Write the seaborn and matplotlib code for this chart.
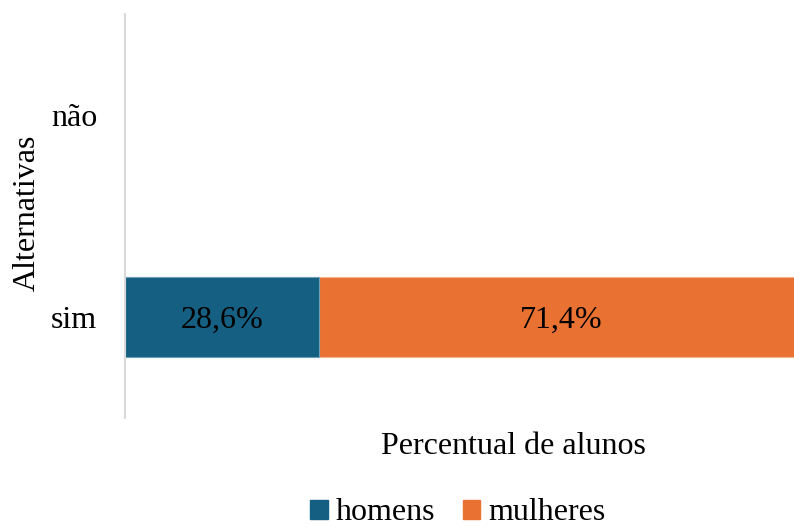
import matplotlib
matplotlib.use("Agg")
import matplotlib.pyplot as plt
import matplotlib.patches as mpatches
import seaborn as sns
import pandas as pd

# Survey answers split by gender (percent of students)
categorias = ["não", "sim"]
homens = [0.0, 28.6]
mulheres = [0.0, 71.4]
rotulos_series = ["homens", "mulheres"]

cor_homens = "#156082"
cor_mulheres = "#E97132"

sns.set_theme(style="white")
plt.rcParams["font.family"] = ["Liberation Serif", "DejaVu Serif"]
plt.rcParams["text.color"] = "black"

df = pd.DataFrame({
    "alternativa": categorias,
    "homens": homens,
    "mulheres": mulheres,
})
df["total"] = df["homens"] + df["mulheres"]

W, H = 794, 531
fig = plt.figure(figsize=(W / 100, H / 100), dpi=100)
# plot area runs slightly past the right edge of the canvas
ax = fig.add_axes([125 / W, 1 - 418 / H, (803 - 125) / W, (418 - 14) / H])

# stacked bars: full total first, then the first segment over it
sns.barplot(data=df, y="alternativa", x="total", order=categorias, orient="h",
            color=cor_mulheres, saturation=1, width=0.4, ax=ax,
            edgecolor="#f4b48f", linewidth=0.8)
sns.barplot(data=df, y="alternativa", x="homens", order=categorias, orient="h",
            color=cor_homens, saturation=1, width=0.4, ax=ax,
            edgecolor="#6f9fb8", linewidth=0.8)

# empty categories get no visible bar outline
for p in ax.patches:
    if p.get_width() == 0:
        p.set_visible(False)

ax.set_xlim(0, 100)
ax.set_ylim(1.5, -0.5)

fs = 23
for i, cat in enumerate(categorias):
    h = homens[i]
    m = mulheres[i]
    if h > 0:
        ax.text(h / 2, i, f"{h:.1f}%".replace(".", ","), ha="center",
                va="center_baseline", fontsize=fs, color="black")
    if m > 0:
        ax.text(h + m / 2, i, f"{m:.1f}%".replace(".", ","), ha="center",
                va="center_baseline", fontsize=fs, color="black")

ax.set_xlabel("")
ax.set_ylabel("")
ax.set_xticks([])
ax.tick_params(axis="y", length=0, pad=20, labelsize=fs, labelcolor="black")
for lab in ax.get_yticklabels():
    lab.set_fontsize(fs)
    lab.set_verticalalignment("center_baseline")

for s in ["top", "right", "bottom"]:
    ax.spines[s].set_visible(False)
ax.spines["left"].set_color("#d9d9d9")
ax.spines["left"].set_linewidth(1.5)

fig.text(27 / W, 1 - 213 / H, "Alternativas", rotation=90, ha="center",
         va="center", fontsize=fs, color="black")
fig.text(513 / W, 1 - 446 / H, "Percentual de alunos", ha="center",
         va="center", fontsize=fs, color="black")

handles = [mpatches.Patch(color=cor_homens, label=rotulos_series[0]),
           mpatches.Patch(color=cor_mulheres, label=rotulos_series[1])]
fig.legend(handles=handles, loc="center", bbox_to_anchor=(458 / W, 1 - 513 / H),
           ncol=2, frameon=False, fontsize=fs, handlelength=0.55, handleheight=0.55,
           handletextpad=0.25, columnspacing=0.85, borderpad=0, borderaxespad=0,
           labelcolor="black")

fig.savefig("out.png", dpi=100)
